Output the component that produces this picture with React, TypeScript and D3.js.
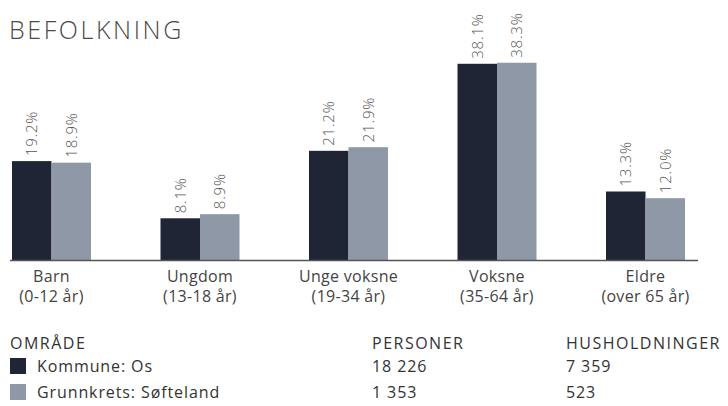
import React from 'react';
import * as d3 from 'd3';

const categories = ['Barn', 'Ungdom', 'Unge voksne', 'Voksne', 'Eldre'];
const categoryRanges = ['(0-12 år)', '(13-18 år)', '(19-34 år)', '(35-64 år)', '(over 65 år)'];
const seriesNames = ['Kommune: Os', 'Grunnkrets: Søfteland'];
const kommuneValues = [19.2, 8.1, 21.2, 38.1, 13.3];
const grunnkretsValues = [18.9, 8.9, 21.9, 38.3, 12.0];
const personer = ['18 226', '1 353'];
const husholdninger = ['7 359', '523'];

const colors = ['#1f2535', '#8e98a6'];
const font = '"Open Sans", "Noto Sans", sans-serif';

const App: React.FC = () => {
    const width = 728;
    const height = 406;
    const baseline = 260;

    const x0 = d3.scaleBand<string>()
        .domain(categories)
        .range([12, 685])
        .paddingInner(0.468)
        .paddingOuter(0);

    const x1 = d3.scaleBand<string>()
        .domain(seriesNames)
        .range([0, x0.bandwidth()]);

    const y = d3.scaleLinear()
        .domain([0, 40])
        .range([baseline, 54]);

    const series = [kommuneValues, grunnkretsValues];

    return (
        <svg width={width} height={height} style={{ position: 'absolute', left: 0, top: 0, background: '#fff' }} fontFamily={font}>
            <text x={9} y={39} fontSize={25} fill="#4a4a4a" fontWeight={300} letterSpacing={2.6}>BEFOLKNING</text>

            {categories.map((c, i) => (
                <g key={c} transform={`translate(${x0(c)},0)`}>
                    {series.map((vals, s) => {
                        const bx = x1(seriesNames[s]) as number;
                        const bw = x1.bandwidth();
                        const top = y(vals[i]);
                        return (
                            <g key={s}>
                                <rect x={bx} y={top} width={bw} height={baseline - top} fill={colors[s]} />
                                <text
                                    transform={`translate(${bx + bw / 2 + 5.5},${top - 5}) rotate(-90)`}
                                    fontSize={15}
                                    fill="#555"
                                    fontWeight={300}
                                    letterSpacing={0.8}
                                >
                                    {vals[i].toFixed(1)}%
                                </text>
                            </g>
                        );
                    })}
                    <text x={x0.bandwidth() / 2} y={282} textAnchor="middle" fontSize={16} fill="#444" letterSpacing={0.3}>{c}</text>
                    <text x={x0.bandwidth() / 2} y={302} textAnchor="middle" fontSize={16} fill="#444" letterSpacing={0.3}>{categoryRanges[i]}</text>
                </g>
            ))}

            <line x1={10} x2={698} y1={baseline + 0.5} y2={baseline + 0.5} stroke="#555" strokeWidth={1.5} />

            <g fontSize={16} fill="#333" letterSpacing={0.9}>
                <g letterSpacing={1.5}>
                    <text x={10} y={349}>OMRÅDE</text>
                    <text x={372} y={349}>PERSONER</text>
                    <text x={566} y={349}>HUSHOLDNINGER</text>
                </g>
                {seriesNames.map((n, i) => (
                    <g key={n} transform={`translate(0,${i * 26})`}>
                        <rect x={10} y={358} width={16} height={16} fill={colors[i]} />
                        <text x={37} y={372}>{n}</text>
                        <text x={372} y={372}>{personer[i]}</text>
                        <text x={566} y={372}>{husholdninger[i]}</text>
                    </g>
                ))}
            </g>
        </svg>
    );
};

export default App;
